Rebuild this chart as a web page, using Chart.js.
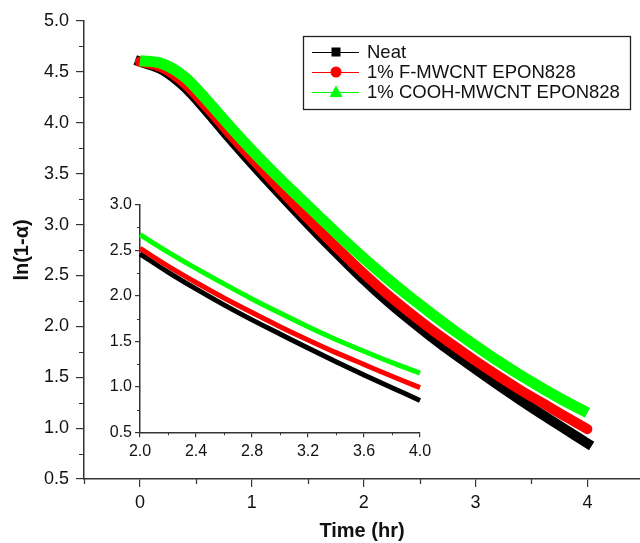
<!DOCTYPE html>
<html><head><meta charset="utf-8">
<script src="https://cdn.jsdelivr.net/npm/chart.js@4.4.1/dist/chart.umd.min.js"></script>
<style>
html,body{margin:0;padding:0;background:#fff;overflow:hidden}
#wrap{position:relative;width:640px;height:543px}
#main{position:absolute;left:0;top:0}
#inset{position:absolute;left:90px;top:190px}
</style></head><body>
<div id="wrap"><canvas id="main" width="640" height="543"></canvas><canvas id="inset" width="350" height="280"></canvas></div>
<script>
// ---- data ----
const timeHr    = [0.0,0.2,0.4,0.6,0.8,1.0,1.2,1.4,1.6,1.8,2.0,2.2,2.4,2.6,2.8,3.0,3.2,3.4,3.6,3.8,4.0];
const neat      = [4.60,4.52,4.35,4.11,3.85,3.60,3.36,3.125,2.895,2.675,2.46,2.26,2.075,1.90,1.735,1.58,1.425,1.275,1.13,0.99,0.85];
const fMwcnt    = [4.60,4.54,4.385,4.15,3.895,3.65,3.41,3.175,2.95,2.73,2.52,2.325,2.145,1.975,1.815,1.66,1.515,1.375,1.245,1.115,0.99];
const coohMwcnt = [4.61,4.58,4.45,4.22,3.97,3.73,3.505,3.29,3.08,2.87,2.67,2.48,2.30,2.13,1.965,1.81,1.66,1.52,1.39,1.265,1.15];
const seriesNames = ['Neat','1% F-MWCNT EPON828','1% COOH-MWCNT EPON828'];

const mainXTicks = [0,1,2,3,4];
const mainXMinor = [-0.5,0.5,1.5,2.5,3.5];
const mainYTicks = [0.5,1.0,1.5,2.0,2.5,3.0,3.5,4.0,4.5,5.0];
const mainYMinor = [0.75,1.25,1.75,2.25,2.75,3.25,3.75,4.25,4.75];
const insetXTicks = [2.0,2.4,2.8,3.2,3.6,4.0];
const insetXMinor = [2.2,2.6,3.0,3.4,3.8];
const insetYTicks = [0.5,1.0,1.5,2.0,2.5,3.0];
const insetYMinor = [0.75,1.25,1.75,2.25,2.75];
const insetStart = 2.0;

const FONT = "'Liberation Sans', Arial, sans-serif";
const AXIS = '#333333';
const COLORS = ['#000000','#ff0000','#00ff00'];
const seriesValues = [neat, fMwcnt, coohMwcnt];

const pts = (vals, from) => timeHr.map((t,i)=>({x:t,y:vals[i]})).filter(p=>p.x>=from);

const minorTicks = {
  id:'minorTicks',
  afterDraw(chart, args, o){
    const ctx = chart.ctx, xs = chart.scales.x, ys = chart.scales.y;
    ctx.save(); ctx.strokeStyle = AXIS; ctx.lineWidth = o.width; ctx.beginPath();
    o.xv.forEach(v=>{const px=Math.round(xs.getPixelForValue(v))+0.5; ctx.moveTo(px, xs.top); ctx.lineTo(px, xs.top+o.len);});
    o.yv.forEach(v=>{const py=Math.round(ys.getPixelForValue(v))+0.5; ctx.moveTo(ys.right, py); ctx.lineTo(ys.right-o.len, py);});
    ctx.stroke(); ctx.restore();
  }
};

function drawMarker(ctx, i, x, y){
  ctx.fillStyle = COLORS[i];
  if(i===0){ ctx.fillRect(x-4.5,y-4.5,9,9); }
  else if(i===1){ ctx.beginPath(); ctx.arc(x,y,5.5,0,Math.PI*2); ctx.fill(); }
  else { ctx.beginPath(); ctx.moveTo(x,y-6.5); ctx.lineTo(x+6.5,y+5); ctx.lineTo(x-6.5,y+5); ctx.closePath(); ctx.fill(); }
}

const boxLegend = {
  id:'boxLegend',
  afterDraw(chart){
    const ctx = chart.ctx;
    ctx.save();
    ctx.fillStyle='#fff'; ctx.fillRect(303,36,327,73);
    ctx.strokeStyle='#222'; ctx.lineWidth=1.3; ctx.strokeRect(303.5,36.5,327,73);
    const rows=[52,72,92];
    seriesNames.forEach((n,i)=>{
      const y=rows[i];
      ctx.strokeStyle=COLORS[i]; ctx.lineWidth=1;
      ctx.beginPath(); ctx.moveTo(312,y+0.5); ctx.lineTo(359,y+0.5); ctx.stroke();
      drawMarker(ctx,i,336,y);
      ctx.fillStyle='#111'; ctx.font='18.5px '+FONT; ctx.textBaseline='middle'; ctx.textAlign='left';
      ctx.fillText(n,367,y+1);
    });
    ctx.restore();
  }
};

function axisCommon(ticksArr, fontSize, tickLen, pad, fmt){
  return {
    afterBuildTicks: s => { s.ticks = ticksArr.map(v=>({value:v})); },
    ticks:{font:{family:FONT,size:fontSize}, color:'#111', padding:pad, callback:fmt, autoSkip:false, maxRotation:0},
    grid:{drawOnChartArea:false, drawTicks:true, tickLength:tickLen, color:AXIS, lineWidth:1.2},
    border:{display:true, color:AXIS, width:1.5}
  };
}

// ---- main chart ----
new Chart(document.getElementById('main'), {
  type:'line',
  data:{ datasets: seriesValues.map((v,i)=>({
    label: seriesNames[i], data: pts(v, -Infinity),
    borderColor: COLORS[i], backgroundColor: COLORS[i],
    borderWidth: [10,10,11][i], pointRadius:0, cubicInterpolationMode:'monotone',
    borderCapStyle: ['square','round','butt'][i], order: 2-i, clip:false
  }))},
  options:{
    responsive:false, animation:false, devicePixelRatio:1,
    layout:{padding:{top:21,right:0,left:0,bottom:0}},
    plugins:{legend:{display:false}, tooltip:{enabled:false},
      minorTicks:{xv:mainXMinor, yv:mainYMinor, len:5, width:1.2}},
    scales:{
      x: Object.assign({type:'linear', min:-0.5, max:4.47,
        afterFit: s=>{ s.height = 64; },
        title:{display:true, text:'Time (hr)', font:{family:FONT,size:20,weight:'bold'}, color:'#111', padding:{top:0,bottom:0}}
      }, axisCommon(mainXTicks, 18, 8, 5, v=>String(v))),
      y: Object.assign({type:'linear', min:0.5, max:5.0,
        afterFit: s=>{ s.width = 84; },
        title:{display:true, text:'ln(1-α)', font:{family:FONT,size:20,weight:'bold'}, color:'#111', padding:{top:10,bottom:0}}
      }, axisCommon(mainYTicks, 18, 8, 7, v=>Number(v).toFixed(1)))
    }
  },
  plugins:[minorTicks, boxLegend]
});

// ---- inset chart ----
new Chart(document.getElementById('inset'), {
  type:'line',
  data:{ datasets: seriesValues.map((v,i)=>({
    label: seriesNames[i], data: pts(v, insetStart),
    borderColor: COLORS[i], backgroundColor: COLORS[i],
    borderWidth: 5, pointRadius:0, cubicInterpolationMode:'monotone',
    borderCapStyle:'butt', order: 2-i, clip:false
  }))},
  options:{
    responsive:false, animation:false, devicePixelRatio:1,
    layout:{padding:{top:14.7,right:20,left:0,bottom:0}},
    plugins:{legend:{display:false}, tooltip:{enabled:false},
      minorTicks:{xv:insetXMinor, yv:insetYMinor, len:3, width:1}},
    scales:{
      x: Object.assign({type:'linear', min:2.0, max:4.0,
        afterFit: s=>{ s.height = 37.7; }
      }, axisCommon(insetXTicks, 16, 5, 5, v=>Number(v).toFixed(1))),
      y: Object.assign({type:'linear', min:0.5, max:3.0,
        afterFit: s=>{ s.width = 50; }
      }, axisCommon(insetYTicks, 16, 5, 3, v=>Number(v).toFixed(1)))
    }
  },
  plugins:[minorTicks]
});
</script>
</body></html>
